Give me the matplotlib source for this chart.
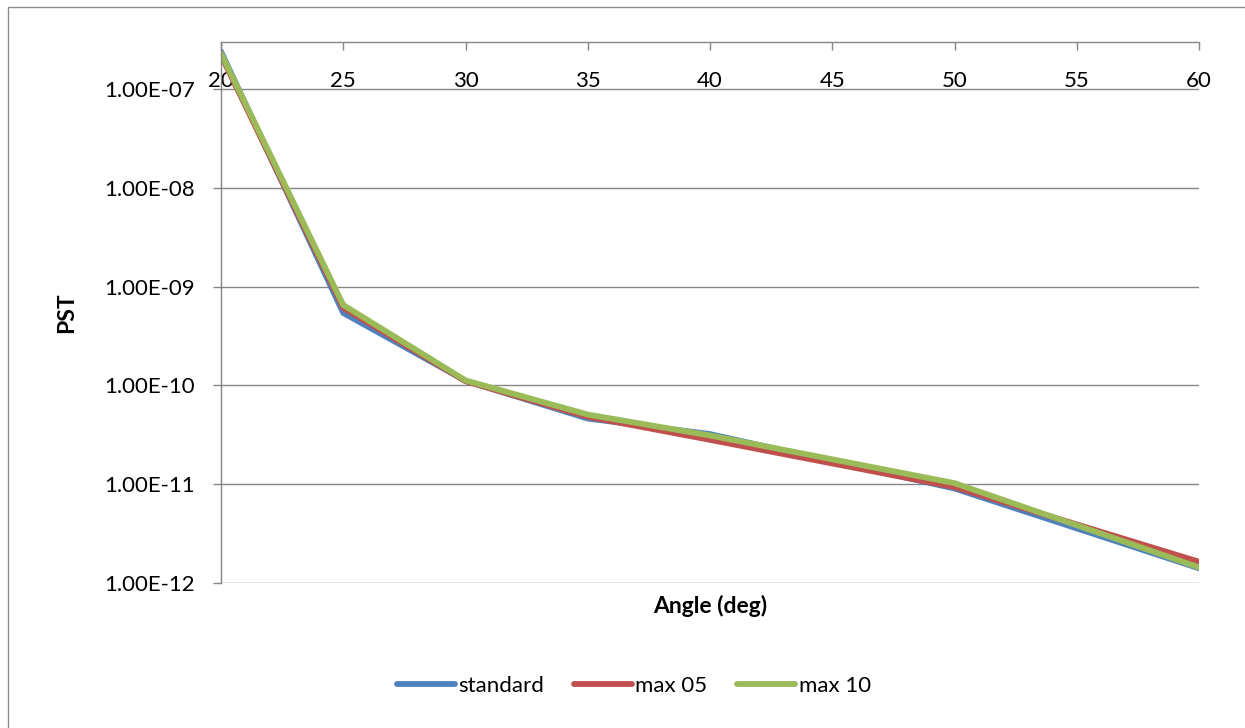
"""PST vs. angle on a log scale, three series."""

import matplotlib
matplotlib.use("Agg")
import matplotlib.pyplot as plt
from matplotlib.patches import Rectangle
from matplotlib.ticker import FuncFormatter, FixedLocator

plt.rcParams["font.family"] = ["Lato", "DejaVu Sans"]

angle = [20, 25, 30, 35, 40, 50, 60]
standard = [2.4e-7, 5.4e-10, 1.11e-10, 4.6e-11, 3.2e-11, 9.0e-12, 1.40e-12]
max_05 = [2.2e-7, 6.1e-10, 1.10e-10, 4.8e-11, 2.8e-11, 9.3e-12, 1.63e-12]
max_10 = [2.3e-7, 6.5e-10, 1.12e-10, 5.05e-11, 3.1e-11, 1.02e-11, 1.43e-12]

x_ticks = [20, 25, 30, 35, 40, 45, 50, 55, 60]
y_ticks = [1e-12, 1e-11, 1e-10, 1e-9, 1e-8, 1e-7]

SERIES = [
    ("standard", standard, "#4F81BD"),
    ("max 05", max_05, "#C0504D"),
    ("max 10", max_10, "#9BBB59"),
]
GRID_COLOR = "#868686"
LINE_WIDTH = 4.2
TICK_SIZE = 16
LABEL_SIZE = 16.5

fig = plt.figure(figsize=(12.45, 7.28), dpi=100)
ax = fig.add_axes([221 / 1245, 1 - 582.7 / 728, (1199 - 221) / 1245, (582.7 - 42) / 728])

# outer chart border (only left and top edges fall inside the image)
fig.patches.append(Rectangle((8 / 1245, -0.1), 1.2, 1 - 7.5 / 728 + 0.1,
                             transform=fig.transFigure, fill=False,
                             edgecolor="#8c8c8c", linewidth=1.0))

for name, values, color in SERIES:
    ax.plot(angle, values, color=color, linewidth=LINE_WIDTH, label=name,
            solid_capstyle="round", solid_joinstyle="round")

ax.set_yscale("log")
ax.set_xlim(20, 60)
ax.set_ylim(1e-12, 3.0e-7)

ax.yaxis.set_major_locator(FixedLocator(y_ticks))
ax.yaxis.set_minor_locator(FixedLocator([]))
ax.yaxis.set_major_formatter(FuncFormatter(lambda v, p: "%.2E" % v))
ax.set_xticks(x_ticks)
ax.set_xticklabels([str(t) for t in x_ticks])

ax.grid(axis="y", color=GRID_COLOR, linewidth=1.0)
ax.set_axisbelow(True)

for side in ["right", "bottom"]:
    ax.spines[side].set_visible(False)
for side in ["left", "top"]:
    ax.spines[side].set_color(GRID_COLOR)
    ax.spines[side].set_linewidth(1.0)

# category axis sits on top, ticks pointing down, labels inside
ax.xaxis.tick_top()
ax.tick_params(axis="x", direction="in", length=6, width=1.0, color=GRID_COLOR,
               labelsize=TICK_SIZE, pad=-35)
ax.tick_params(axis="y", direction="out", length=6, width=1.0, color=GRID_COLOR,
               labelsize=TICK_SIZE, pad=12.5)

ax.xaxis.set_label_position("bottom")
ax.set_xlabel("Angle (deg)", fontsize=LABEL_SIZE, fontweight="bold", labelpad=9)
ax.set_ylabel("PST", fontsize=LABEL_SIZE, fontweight="bold", labelpad=20)

fig.legend(loc="center", bbox_to_anchor=(634 / 1245, 1 - 686 / 728), ncol=3,
           frameon=False, fontsize=TICK_SIZE, handlelength=2.6, handletextpad=0.15,
           columnspacing=1.35)

fig.savefig("out.png", dpi=100)
plt.close(fig)
